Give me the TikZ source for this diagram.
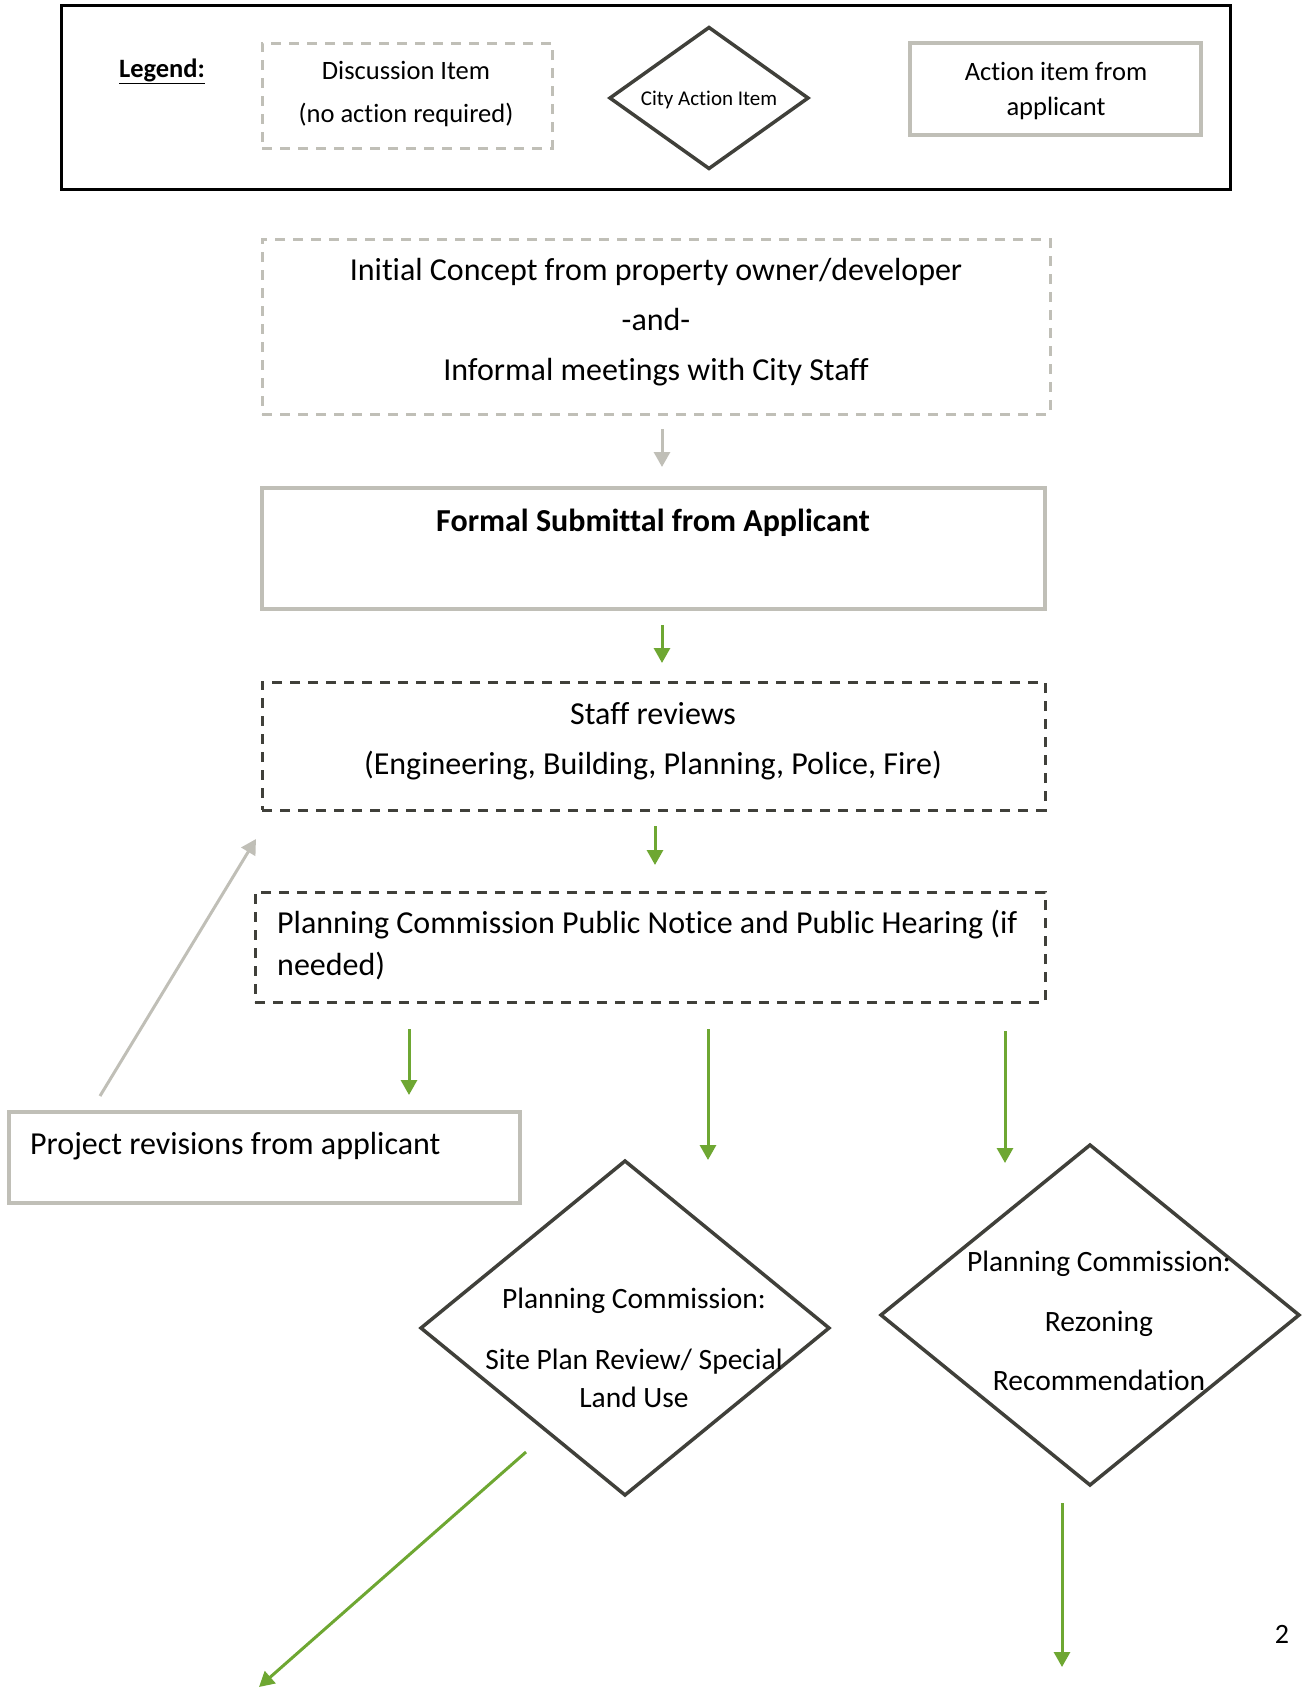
\documentclass[tikz,border=0pt]{standalone}
\usepackage{fontspec}
\setmainfont{Carlito}[Ligatures={NoCommon}]
\usetikzlibrary{shapes.geometric,arrows.meta,calc}
\definecolor{grayc}{RGB}{192,191,183}
\definecolor{darkc}{RGB}{64,64,58}
\definecolor{greenc}{RGB}{110,167,50}
\newcommand{\fs}[1]{\fontsize{#1}{#1}\selectfont}
\tikzset{
  box/.style={rectangle,inner sep=0pt,outer sep=0pt},
  discbox/.style={box,draw=grayc,line width=3pt,dash pattern=on 10pt off 8pt},
  revbox/.style={box,draw=darkc,line width=3pt,dash pattern=on 10pt off 8pt},
  appbox/.style={box,draw=grayc,line width=4pt},
  citydia/.style={diamond,draw=darkc,line width=3.5pt,inner sep=0pt,outer sep=0pt},
  txt/.style={inner sep=0pt,text height=0.75em,text depth=0.25em},
  garrow/.style={draw=greenc,line width=3pt,-{Triangle[length=15pt,width=16pt]}},
  grarrow/.style={draw=grayc,line width=3pt,-{Triangle[length=15pt,width=16pt]}},
}
\begin{document}
\begin{tikzpicture}[x=1pt,y=-1pt]
\useasboundingbox (0,0) rectangle (1308,1690);
% legend
\node[box,draw=black,line width=3pt,minimum width=1169pt,minimum height=184pt] (legend) at (645.5,97) {};
\node[txt,font=\fs{26.5}\bfseries] (legtxt) at (162,75) {\underline{Legend:}};
\node[discbox,minimum width=290pt,minimum height=105pt] (ldisc) at (407,95.5) {};
\node[txt,font=\fs{26.5}] (ldisc1) at (406,77) {Discussion Item};
\node[txt,font=\fs{26.5}] (ldisc2) at (406,120) {(no action required)};
\node[citydia,minimum width=198pt,minimum height=141pt] (lcity) at (709,98) {};
\node[txt,font=\fs{21}] (lcitytxt) at (709,103) {City Action Item};
\node[appbox,minimum width=291pt,minimum height=92pt] (lapp) at (1055.5,89) {};
\node[txt,font=\fs{26.5}] (lapp1) at (1056,78) {Action item from};
\node[txt,font=\fs{26.5}] (lapp2) at (1056,113) {applicant};
% initial concept
\node[discbox,minimum width=788pt,minimum height=175pt] (init) at (656,326.5) {};
\node[txt,font=\fs{32}] (init1) at (656,278) {Initial Concept from property owner/developer};
\node[txt,font=\fs{32}] (init2) at (656,328) {-and-};
\node[txt,font=\fs{32}] (init3) at (656,378) {Informal meetings with City Staff};
% formal
\node[appbox,minimum width=783pt,minimum height=121pt] (formal) at (653.5,548.5) {};
\node[txt,font=\fs{32}\bfseries] (formaltxt) at (653,529) {Formal Submittal from Applicant};
% staff reviews
\node[revbox,minimum width=783pt,minimum height=128pt] (staff) at (653.5,746) {};
\node[txt,font=\fs{32}] (staff1) at (653,722) {Staff reviews};
\node[txt,font=\fs{32}] (staff2) at (653,772) {(Engineering, Building, Planning, Police, Fire)};
% public notice
\node[revbox,minimum width=790pt,minimum height=110pt] (notice) at (650,947) {};
\node[txt,font=\fs{32},anchor=west] (notice1) at (277,931) {Planning Commission Public Notice and Public Hearing (if};
\node[txt,font=\fs{32},anchor=west] (notice2) at (277,973) {needed)};
% project revisions
\node[appbox,minimum width=511pt,minimum height=91pt] (rev) at (264.5,1157.5) {};
\node[txt,font=\fs{32},anchor=west] (revtxt) at (30,1152) {Project revisions from applicant};
% diamonds
\node[citydia,minimum width=408pt,minimum height=334pt] (site) at (625,1328) {};
\node[txt,font=\fs{29.5}] (site1) at (634,1306) {Planning Commission:};
\node[txt,font=\fs{29.5}] (site2) at (634,1367) {Site Plan Review/ Special};
\node[txt,font=\fs{29.5}] (site3) at (634,1405) {Land Use};
\node[citydia,minimum width=418pt,minimum height=340pt] (rezone) at (1090,1315) {};
\node[txt,font=\fs{29.5}] (rez1) at (1099,1269) {Planning Commission:};
\node[txt,font=\fs{29.5}] (rez2) at (1099,1329) {Rezoning};
\node[txt,font=\fs{29.5}] (rez3) at (1099,1388) {Recommendation};
% page number
\node[txt,font=\fs{28}] (pagenum) at (1282,1641) {2};
% connectors
\draw[grarrow] ($(init.south)+(6,15)$) -- ($(init.south)+(6,53)$);
\draw[garrow] ($(formal.south)+(8.5,16)$) -- ($(staff.north)+(8.5,-19)$);
\draw[garrow] ($(staff.south)+(1.5,16)$) -- ($(notice.north)+(5,-27)$);
\draw[garrow] ($(notice.south west)+(154,27)$) -- ($(rev.north east)+(-111,-17)$);
\draw[garrow] ($(notice.south)+(58,27)$) -- ($(site.north)+(83,-1)$);
\draw[garrow] ($(notice.south)+(355,29)$) -- ($(rezone.north)+(-85,18)$);
\coordinate (revstart) at (100,1096);
\coordinate (revend) at (256,839);
\draw[grarrow] (revstart) -- (revend);
\coordinate (sitestart) at (526,1452);
\coordinate (siteend) at (259,1687);
\draw[garrow] (sitestart) -- (siteend);
\draw[garrow] ($(rezone.south)+(-28,18)$) -- ($(rezone.south)+(-28,182)$);
\end{tikzpicture}
\end{document}
